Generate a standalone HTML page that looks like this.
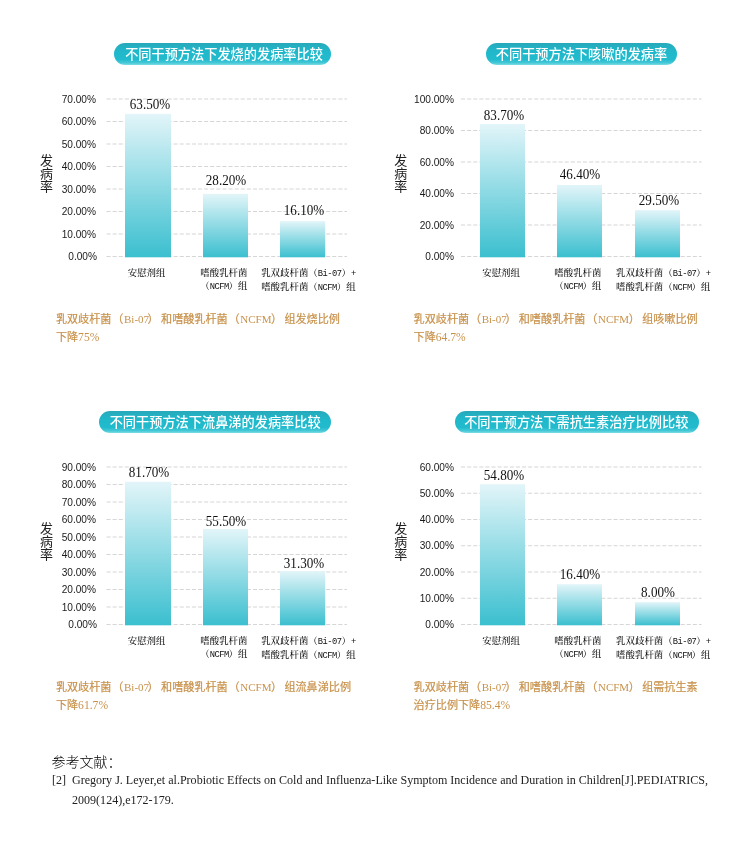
<!DOCTYPE html>
<html lang="zh-CN"><head><meta charset="utf-8"><title>chart</title><style>
html,body{margin:0;padding:0;background:#fff;}
body{width:750px;height:842px;position:relative;overflow:hidden;font-family:"Liberation Sans","Noto Sans CJK SC",sans-serif;}
div{position:absolute;box-sizing:border-box;white-space:nowrap;}
.pill{height:22px;border-radius:11px;background:linear-gradient(#28a8ba 0%,#23b1c4 20%,#20b9cc 45%,#22bbce 75%,#45c8d6 90%,#7fdce5 100%);color:#fff;font-weight:500;font-size:13.2px;line-height:23px;text-align:center;}
.yt{font-size:13px;line-height:13.2px;color:#222;width:13px;text-align:center;}
.bg{position:absolute;left:0;top:0;}
.yl{width:60px;text-align:right;font-size:11.2px;line-height:14px;color:#1a1a1a;transform:scaleX(0.905);transform-origin:100% 50%;}
.vl{width:80px;text-align:center;font-family:"Liberation Serif",serif;font-size:13.6px;line-height:14px;color:#111;transform:scaleX(0.965);}
.cl{width:140px;text-align:center;font-family:"Liberation Serif","Noto Serif CJK SC",serif;font-size:9.45px;line-height:13.2px;color:#111;font-weight:500;}
.cl .m{font-family:"Liberation Mono",monospace;font-size:8.8px;letter-spacing:-0.56px;font-weight:400;}
.cap{font-size:11.1px;line-height:18px;color:#c8914a;-webkit-text-stroke:0.2px #c8914a;}
.cap .s{font-family:"Liberation Serif",serif;font-size:11px;-webkit-text-stroke:0;}
.cap .p{margin:0 -1.5px 0 1.5px;}
.cap .q{margin-right:2.4px;}
.cap .o{margin:0 -0.8px 0 0.8px;}
.ref1{left:51.5px;top:751.6px;font-size:14px;line-height:20px;color:#000;font-weight:300;}
.ref2{left:52px;top:770px;font-family:"Liberation Serif",serif;font-size:12.06px;line-height:20.2px;color:#222;}
</style></head><body>
<svg class="bg" width="750" height="842" viewBox="0 0 750 842"><defs><linearGradient id="bg" x1="0" y1="0" x2="0" y2="1"><stop offset="0" stop-color="#e2f5f9"/><stop offset="1" stop-color="#3bbfcf"/></linearGradient></defs><g stroke="#d6d6d6" stroke-width="1.2" stroke-dasharray="4.1 2" fill="none"><line x1="461" y1="467.00" x2="701.6" y2="467.00"/><line x1="461" y1="493.25" x2="701.6" y2="493.25"/><line x1="461" y1="519.50" x2="701.6" y2="519.50"/><line x1="461" y1="545.75" x2="701.6" y2="545.75"/><line x1="461" y1="572.00" x2="701.6" y2="572.00"/><line x1="461" y1="598.25" x2="701.6" y2="598.25"/><line x1="461" y1="624.50" x2="701.6" y2="624.50"/><line x1="106.5" y1="467.00" x2="347" y2="467.00"/><line x1="106.5" y1="484.50" x2="347" y2="484.50"/><line x1="106.5" y1="502.00" x2="347" y2="502.00"/><line x1="106.5" y1="519.50" x2="347" y2="519.50"/><line x1="106.5" y1="537.00" x2="347" y2="537.00"/><line x1="106.5" y1="554.50" x2="347" y2="554.50"/><line x1="106.5" y1="572.00" x2="347" y2="572.00"/><line x1="106.5" y1="589.50" x2="347" y2="589.50"/><line x1="106.5" y1="607.00" x2="347" y2="607.00"/><line x1="106.5" y1="624.50" x2="347" y2="624.50"/><line x1="461" y1="99.00" x2="701.6" y2="99.00"/><line x1="461" y1="130.50" x2="701.6" y2="130.50"/><line x1="461" y1="162.00" x2="701.6" y2="162.00"/><line x1="461" y1="193.50" x2="701.6" y2="193.50"/><line x1="461" y1="225.00" x2="701.6" y2="225.00"/><line x1="461" y1="256.50" x2="701.6" y2="256.50"/><line x1="106.5" y1="99.00" x2="347" y2="99.00"/><line x1="106.5" y1="121.50" x2="347" y2="121.50"/><line x1="106.5" y1="144.00" x2="347" y2="144.00"/><line x1="106.5" y1="166.50" x2="347" y2="166.50"/><line x1="106.5" y1="189.00" x2="347" y2="189.00"/><line x1="106.5" y1="211.50" x2="347" y2="211.50"/><line x1="106.5" y1="234.00" x2="347" y2="234.00"/><line x1="106.5" y1="256.50" x2="347" y2="256.50"/></g><rect x="125" y="113.90" width="46.00" height="143.40" fill="url(#bg)"/><rect x="203" y="193.90" width="45.00" height="63.40" fill="url(#bg)"/><rect x="280" y="221.10" width="45.20" height="36.20" fill="url(#bg)"/><rect x="480" y="124.00" width="45.00" height="133.30" fill="url(#bg)"/><rect x="557" y="185.00" width="45.00" height="72.30" fill="url(#bg)"/><rect x="635" y="210.10" width="45.00" height="47.20" fill="url(#bg)"/><rect x="125" y="481.80" width="46.00" height="143.50" fill="url(#bg)"/><rect x="203" y="529.00" width="45.00" height="96.30" fill="url(#bg)"/><rect x="280" y="571.10" width="45.20" height="54.20" fill="url(#bg)"/><rect x="480" y="484.20" width="45.00" height="141.10" fill="url(#bg)"/><rect x="557" y="584.20" width="45.00" height="41.10" fill="url(#bg)"/><rect x="635" y="602.10" width="45.00" height="23.20" fill="url(#bg)"/></svg>
<div class="pill" style="left:114.2px;top:43px;width:217.3px;padding-left:2.4px">不同干预方法下发烧的发病率比较</div>
<div class="yt" style="left:39.900000000000006px;top:153.7px">发<br>病<br>率</div>
<div class="yl" style="left:36.9px;top:249.00px">0.00%</div>
<div class="yl" style="left:35.5px;top:226.50px">10.00%</div>
<div class="yl" style="left:35.5px;top:204.00px">20.00%</div>
<div class="yl" style="left:35.5px;top:181.50px">30.00%</div>
<div class="yl" style="left:35.5px;top:159.00px">40.00%</div>
<div class="yl" style="left:35.5px;top:136.50px">50.00%</div>
<div class="yl" style="left:35.5px;top:114.00px">60.00%</div>
<div class="yl" style="left:35.5px;top:91.50px">70.00%</div>
<div class="vl" style="left:109.50px;top:98.11px">63.50%</div>
<div class="vl" style="left:186.00px;top:173.91px">28.20%</div>
<div class="vl" style="left:264.30px;top:203.51px">16.10%</div>
<div class="cl" style="left:76.60px;top:267.1px">安慰剂组</div>
<div class="cl" style="left:153.90px;top:267.1px">嗜酸乳杆菌<br>（<span class="m">NCFM</span>）组</div>
<div class="cl" style="left:238.40px;top:267.1px">乳双歧杆菌（<span class="m">Bi-07</span>）<span class="m">+</span><br>嗜酸乳杆菌（<span class="m">NCFM</span>）组</div>
<div class="cap" style="left:55.9px;top:310px">乳双歧杆菌<span class="o">（</span><span class="s p">Bi-07</span><span class="q">）</span>和嗜酸乳杆菌<span class="o">（</span><span class="s p" style="margin-right:-0.5px">NCFM</span><span class="q">）</span>组发烧比例<br>下降<span class="s" style="font-size:11.6px">75%</span></div>
<div class="pill" style="left:486.2px;top:43px;width:191.3px;padding-right:0.6px">不同干预方法下咳嗽的发病率</div>
<div class="yt" style="left:394.2px;top:153.7px">发<br>病<br>率</div>
<div class="yl" style="left:394px;top:249.00px">0.00%</div>
<div class="yl" style="left:394px;top:217.50px">20.00%</div>
<div class="yl" style="left:394px;top:186.00px">40.00%</div>
<div class="yl" style="left:394px;top:154.50px">60.00%</div>
<div class="yl" style="left:394px;top:123.00px">80.00%</div>
<div class="yl" style="left:394px;top:91.50px">100.00%</div>
<div class="vl" style="left:464.00px;top:108.81px">83.70%</div>
<div class="vl" style="left:540.20px;top:167.71px">46.40%</div>
<div class="vl" style="left:618.60px;top:193.91px">29.50%</div>
<div class="cl" style="left:431.10px;top:267.1px">安慰剂组</div>
<div class="cl" style="left:507.90px;top:267.1px">嗜酸乳杆菌<br>（<span class="m">NCFM</span>）组</div>
<div class="cl" style="left:593.30px;top:267.1px">乳双歧杆菌（<span class="m">Bi-07</span>）<span class="m">+</span><br>嗜酸乳杆菌（<span class="m">NCFM</span>）组</div>
<div class="cap" style="left:413.6px;top:310px">乳双歧杆菌<span class="o">（</span><span class="s p">Bi-07</span><span class="q">）</span>和嗜酸乳杆菌<span class="o">（</span><span class="s p" style="margin-right:-0.5px">NCFM</span><span class="q">）</span>组咳嗽比例<br>下降<span class="s" style="font-size:11.6px">64.7%</span></div>
<div class="pill" style="left:98.8px;top:411px;width:232.1px;padding-left:0.6px">不同干预方法下流鼻涕的发病率比较</div>
<div class="yt" style="left:39.900000000000006px;top:521.7px">发<br>病<br>率</div>
<div class="yl" style="left:36.9px;top:617.00px">0.00%</div>
<div class="yl" style="left:35.5px;top:599.50px">10.00%</div>
<div class="yl" style="left:35.5px;top:582.00px">20.00%</div>
<div class="yl" style="left:35.5px;top:564.50px">30.00%</div>
<div class="yl" style="left:35.5px;top:547.00px">40.00%</div>
<div class="yl" style="left:35.5px;top:529.50px">50.00%</div>
<div class="yl" style="left:35.5px;top:512.00px">60.00%</div>
<div class="yl" style="left:35.5px;top:494.50px">70.00%</div>
<div class="yl" style="left:35.5px;top:477.00px">80.00%</div>
<div class="yl" style="left:35.5px;top:459.50px">90.00%</div>
<div class="vl" style="left:109.40px;top:466.31px">81.70%</div>
<div class="vl" style="left:185.90px;top:514.91px">55.50%</div>
<div class="vl" style="left:264.00px;top:556.71px">31.30%</div>
<div class="cl" style="left:76.60px;top:635.1px">安慰剂组</div>
<div class="cl" style="left:153.90px;top:635.1px">嗜酸乳杆菌<br>（<span class="m">NCFM</span>）组</div>
<div class="cl" style="left:238.40px;top:635.1px">乳双歧杆菌（<span class="m">Bi-07</span>）<span class="m">+</span><br>嗜酸乳杆菌（<span class="m">NCFM</span>）组</div>
<div class="cap" style="left:55.9px;top:678px">乳双歧杆菌<span class="o">（</span><span class="s p">Bi-07</span><span class="q">）</span>和嗜酸乳杆菌<span class="o">（</span><span class="s p" style="margin-right:-0.5px">NCFM</span><span class="q">）</span>组流鼻涕比例<br>下降<span class="s" style="font-size:11.6px">61.7%</span></div>
<div class="pill" style="left:455.2px;top:411px;width:243.7px;padding-right:1.6px">不同干预方法下需抗生素治疗比例比较</div>
<div class="yt" style="left:394.2px;top:521.7px">发<br>病<br>率</div>
<div class="yl" style="left:394px;top:617.00px">0.00%</div>
<div class="yl" style="left:394px;top:590.75px">10.00%</div>
<div class="yl" style="left:394px;top:564.50px">20.00%</div>
<div class="yl" style="left:394px;top:538.25px">30.00%</div>
<div class="yl" style="left:394px;top:512.00px">40.00%</div>
<div class="yl" style="left:394px;top:485.75px">50.00%</div>
<div class="yl" style="left:394px;top:459.50px">60.00%</div>
<div class="vl" style="left:464.00px;top:468.81px">54.80%</div>
<div class="vl" style="left:539.90px;top:568.01px">16.40%</div>
<div class="vl" style="left:617.60px;top:585.81px">8.00%</div>
<div class="cl" style="left:431.10px;top:635.1px">安慰剂组</div>
<div class="cl" style="left:507.90px;top:635.1px">嗜酸乳杆菌<br>（<span class="m">NCFM</span>）组</div>
<div class="cl" style="left:593.30px;top:635.1px">乳双歧杆菌（<span class="m">Bi-07</span>）<span class="m">+</span><br>嗜酸乳杆菌（<span class="m">NCFM</span>）组</div>
<div class="cap" style="left:413.6px;top:678px">乳双歧杆菌<span class="o">（</span><span class="s p">Bi-07</span><span class="q">）</span>和嗜酸乳杆菌<span class="o">（</span><span class="s p" style="margin-right:-0.5px">NCFM</span><span class="q">）</span>组需抗生素<br>治疗比例下降<span class="s" style="font-size:11.6px">85.4%</span></div>
<div class="ref1">参考文献：</div>
<div class="ref2">[2]</div>
<div class="ref2" style="left:72px">Gregory J. Leyer,et al.Probiotic Effects on Cold and Influenza-Like Symptom Incidence and Duration in Children[J].PEDIATRICS,<br>2009(124),e172-179.</div>
</body></html>
